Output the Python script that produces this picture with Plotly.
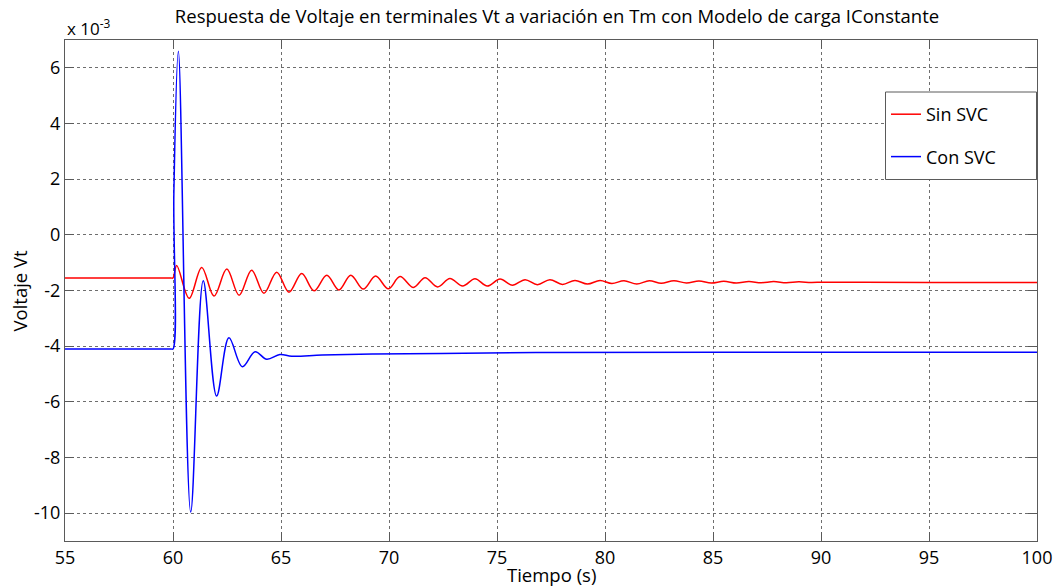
import plotly.graph_objects as go

# Terminal voltage deviation (units of 1e-3) after the Tm step at t = 60 s
t_sin_svc = [55.0, 59.9, 60.0, 60.17, 60.75, 61.33, 61.90, 62.49, 63.06, 63.64, 64.21,
             64.80, 65.37, 65.96, 66.53, 67.12, 67.68, 68.23, 68.81, 69.38, 69.97,
             70.51, 71.13, 71.67, 72.25, 72.82, 73.41, 73.98, 74.55, 75.14, 75.71,
             76.30, 76.87, 77.45, 78.03, 78.61, 79.19, 79.77, 80.32, 80.88, 81.47,
             82.05, 82.60, 83.19, 83.77, 84.35, 84.92, 85.50, 86.08, 86.66, 87.23,
             87.81, 88.39, 88.97, 89.54, 90.10, 92.0, 95.0, 100.0]
vt_sin_svc = [-1.55, -1.55, -1.55, -1.10, -2.28, -1.17, -2.20, -1.23, -2.17, -1.27, -2.10,
              -1.34, -2.06, -1.39, -2.01, -1.45, -1.98, -1.45, -1.95, -1.48, -1.94,
              -1.50, -1.89, -1.54, -1.87, -1.57, -1.84, -1.58, -1.84, -1.59, -1.81,
              -1.61, -1.79, -1.61, -1.78, -1.64, -1.77, -1.64, -1.75, -1.65, -1.77,
              -1.65, -1.74, -1.65, -1.73, -1.66, -1.73, -1.67, -1.73, -1.68, -1.72,
              -1.68, -1.72, -1.69, -1.71, -1.70, -1.70, -1.71, -1.71]

t_con_svc = [55.0, 59.9, 60.0, 60.04, 60.25, 60.82, 61.40, 62.02, 62.59, 63.21, 63.80,
             64.34, 64.95, 65.50, 66.90, 69.30, 72.40, 76.80, 85.30, 100.0]
vt_con_svc = [-4.10, -4.10, -4.10, 1.50, 6.60, -9.96, -1.65, -5.79, -3.70, -4.74, -4.20,
              -4.47, -4.30, -4.36, -4.32, -4.28, -4.26, -4.23, -4.22, -4.22]

y_ticks = [-10, -8, -6, -4, -2, 0, 2, 4, 6]
x_ticks = [55, 60, 65, 70, 75, 80, 85, 90, 95, 100]

FONT = "Open Sans"
AXIS_COLOR = "#5a5a5a"
GRID_COLOR = "#6e6e6e"

fig = go.Figure()
fig.add_trace(go.Scatter(x=t_sin_svc, y=vt_sin_svc, mode="lines", name="Sin SVC",
                         line=dict(color="#ff0000", width=1.5, shape="spline", smoothing=1),
                         legendgroup="a"))
fig.add_trace(go.Scatter(x=t_con_svc, y=vt_con_svc, mode="lines", name="Con SVC",
                         line=dict(color="#0000ff", width=1.5, shape="spline", smoothing=1),
                         legendgroup="b"))

axis_common = dict(
    showline=True, linecolor=AXIS_COLOR, linewidth=1, mirror="ticks",
    ticks="inside", ticklen=9, tickcolor=AXIS_COLOR, tickwidth=1,
    showgrid=True, gridcolor=GRID_COLOR, griddash="dot", gridwidth=1,
    zeroline=False, tickfont=dict(family=FONT, size=18, color="#000000"),
)

fig.update_xaxes(range=[55, 100], tickvals=x_ticks, ticktext=[str(v) for v in x_ticks],
                 **axis_common)
fig.update_yaxes(range=[-11, 7], tickvals=y_ticks, ticktext=[str(v) for v in y_ticks],
                 **axis_common)

fig.update_layout(
    width=1063, height=588,
    margin=dict(l=65, r=26, t=40, b=47),
    paper_bgcolor="white", plot_bgcolor="white",
    font=dict(family=FONT, color="#000000"),
    title=dict(text="Respuesta de Voltaje en terminales Vt a variación en Tm con Modelo de carga IConstante",
               x=557 / 1063, xref="container", xanchor="center",
               y=1 - 17 / 588, yanchor="middle",
               font=dict(family=FONT, size=18.5, color="#000000")),
    legend=dict(x=(886 - 65) / 972, y=1 - (96 - 40) / 501, xanchor="left", yanchor="top",
                bgcolor="rgba(0,0,0,0)", borderwidth=0,
                font=dict(family=FONT, size=18, color="#000000"),
                traceorder="grouped", tracegroupgap=16),
    showlegend=True,
)

# Legend frame
fig.add_shape(type="rect", xref="paper", yref="paper",
              x0=(885.5 - 65) / 972, x1=(1036.5 - 65) / 972,
              y0=1 - (179.5 - 40) / 501, y1=1 - (92 - 40) / 501,
              line=dict(color=AXIS_COLOR, width=1), fillcolor="white", layer="above")

fig.add_annotation(text="x 10<sup>-3</sup>", xref="paper", yref="paper", x=0, y=1,
                   xanchor="left", yanchor="bottom", yshift=-2, showarrow=False,
                   font=dict(family=FONT, size=17, color="#000000"))
fig.add_annotation(text="Tiempo (s)", xref="paper", yref="paper", x=0.5, y=0,
                   xanchor="center", yanchor="middle", yshift=-33, showarrow=False,
                   font=dict(family=FONT, size=18.5, color="#000000"))
fig.add_annotation(text="Voltaje Vt", xref="paper", yref="paper", x=0, y=0.5,
                   xanchor="center", yanchor="middle", xshift=-46, textangle=-90,
                   showarrow=False, font=dict(family=FONT, size=18.5, color="#000000"))

fig.write_html("out.html")
